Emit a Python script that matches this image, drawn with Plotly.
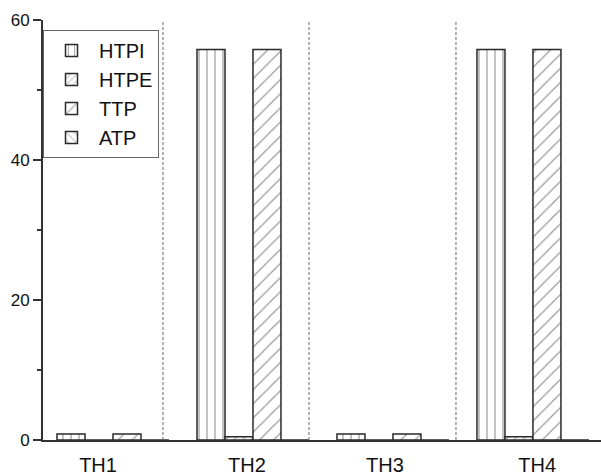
import plotly.graph_objects as go

categories = ["TH1", "TH2", "TH3", "TH4"]
HTPI = [0.85, 55.8, 0.85, 55.8]
HTPE = [0.0, 0.47, 0.0, 0.47]
TTP = [0.85, 55.8, 0.85, 55.8]
ATP = [0.0, 0.0, 0.0, 0.0]

y_ticks = [0, 20, 40, 60]
separators = [0.357, 1.4, 2.45]
label_offsets = [-0.107, -0.043, -0.057, 0.03]

x_pos = list(range(len(categories)))

series = [
    ("HTPI", HTPI, "|", 8, 0.15),
    ("HTPE", HTPE, "/", 6, 0.18),
    ("TTP", TTP, "/", 10, 0.12),
    ("ATP", ATP, "\\", 7, 0.16),
]

fig = go.Figure()
for name, vals, shape, size, sol in series:
    fig.add_trace(go.Bar(
        name=name, x=x_pos, y=vals,
        marker=dict(
            color="white",
            line=dict(color="#2a2a2a", width=1.5),
            pattern=dict(shape=shape, size=size, solidity=sol,
                         fgcolor="#333333", bgcolor="white", fillmode="overlay"),
        ),
    ))

for s in separators:
    fig.add_shape(type="line", xref="x", yref="y", x0=s, x1=s, y0=0, y1=60.7,
                  line=dict(color="#666666", width=1, dash="3px,2px"))

fig.update_layout(
    width=601, height=476,
    margin=dict(l=43, r=0, t=20, b=36, autoexpand=False),
    paper_bgcolor="white", plot_bgcolor="white",
    barmode="group", bargap=0.2, bargroupgap=0,
    font=dict(family="Liberation Sans, Arial, sans-serif", color="#111111"),
    showlegend=True,
    legend=dict(
        x=0.0, y=0.976, xanchor="left", yanchor="top",
        bgcolor="white", bordercolor="#666666", borderwidth=1,
        font=dict(size=20, color="#111111"),
        itemwidth=45,
        tracegroupgap=0,
    ),
    xaxis=dict(
        automargin=False,
        range=[-0.5, 3.486],
        tickmode="array",
        tickvals=[p + o for p, o in zip(x_pos, label_offsets)],
        ticktext=categories,
        tickfont=dict(size=20, color="#111111"),
        ticklabelstandoff=6,
        showline=True, linecolor="#333333", linewidth=2,
        ticks="", showgrid=False, zeroline=False,
    ),
    yaxis=dict(
        automargin=False,
        range=[0, 60],
        tickmode="array", tickvals=y_ticks,
        ticks="outside", ticklen=8, tickwidth=1.5, tickcolor="#333333",
        minor=dict(dtick=10, ticks="outside", ticklen=4, tickwidth=1.5, tickcolor="#333333"),
        tickfont=dict(size=17, color="#111111"),
        showline=True, linecolor="#333333", linewidth=2,
        showgrid=False, zeroline=False,
    ),
)

fig.write_html(
    "out.html",
    config={"displayModeBar": False},
    post_script="document.body.style.margin='0';document.body.style.overflow='hidden';",
)
